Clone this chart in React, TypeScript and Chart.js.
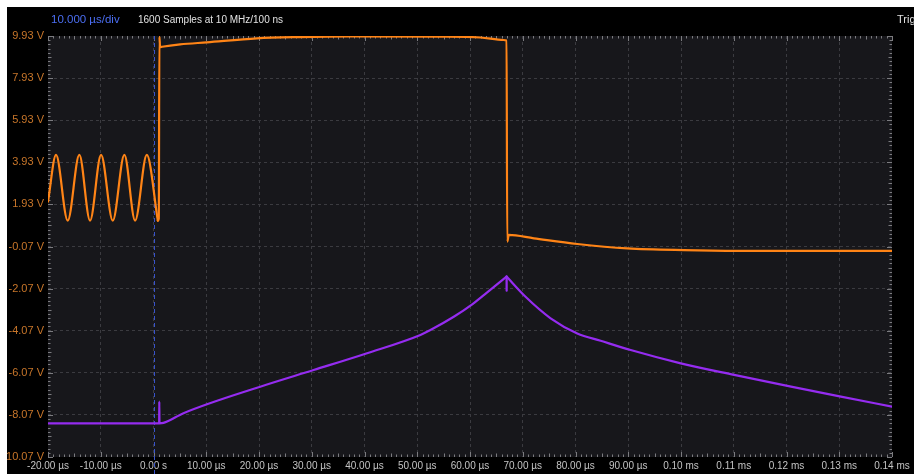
import React, { useEffect, useRef } from 'react';
import { Chart, registerables } from 'chart.js';

Chart.register(...registerables);

// Channel A, pre-trigger sine burst: extrema (µs, V)
const burstTimes = [-20, -18.48, -16.26, -14.06, -12.03, -9.94, -7.72, -5.52, -3.49, -1.27, 0.82];
const burstVolts = [2.06, 4.28, 1.16, 4.28, 1.16, 4.28, 1.16, 4.28, 1.16, 4.28, 1.16];

// Channel A, pulse after the trigger (µs, V)
const pulseTimes = [0.82, 1.0, 1.12, 1.25, 1.64, 5.05, 10.12, 19.61, 27.83, 37.32, 54.4, 61.99, 66.36, 66.93, 67.06, 67.36, 72.11, 80.34, 89.83, 100.57, 116.4, 140];
const pulseVolts = [1.16, 1.25, 9.9, 9.4, 9.42, 9.53, 9.63, 9.82, 9.88, 9.91, 9.9, 9.86, 9.74, 9.72, 0.16, 0.48, 0.32, 0.05, -0.16, -0.24, -0.28, -0.28];

// Channel B, ramp up to the peak (µs, V)
const rampUpTimes = [-20, 1.07, 1.1, 1.13, 1.88, 5.68, 20.24, 30.35, 40.49, 50.6, 52.5, 56.92, 60.42, 63.26, 66.93];
const rampUpVolts = [-8.47, -8.47, -7.44, -8.47, -8.45, -7.99, -6.73, -5.94, -5.14, -4.27, -4.04, -3.41, -2.82, -2.25, -1.5];

// Channel B, decay after the peak (µs, V)
const rampDownTimes = [66.93, 70.53, 75.28, 80.34, 84.77, 90.46, 99.95, 110.07, 120.86, 130.31, 140];
const rampDownVolts = [-1.5, -2.46, -3.48, -4.2, -4.55, -4.99, -5.62, -6.17, -6.73, -7.2, -7.68];

// Channel B, switching glitch at the peak (µs, V)
const glitchTimes = [66.93, 66.95];
const glitchVolts = [-1.5, -2.17];

// Axis ranges
const timeMin = -20;
const timeMax = 140;
const timeStep = 10;
const voltMin = -10.07;
const voltMax = 9.93;
const voltStep = 2;

const timebaseLabel = '10.000 µs/div';
const samplingLabel = '1600 Samples at 10 MHz/100 ns';
const triggerLabel = 'Trig';

const ORANGE = '#ff8416';
const PURPLE = '#952cf0';
const FONT = '"Liberation Sans", Arial, sans-serif';

const toPoints = (xs: number[], ys: number[]) => xs.map((x, i) => ({ x, y: ys[i] }));

const formatTime = (v: number) => {
  if (v === 0) return '0.00 s';
  if (Math.abs(v) >= 100) return `${(v / 1000).toFixed(2)} ms`;
  return `${v.toFixed(2)} µs`;
};

const scopePlugin = {
  id: 'scopeDecor',
  beforeDraw(chart: any) {
    const { ctx, chartArea: a } = chart;
    ctx.save();
    ctx.fillStyle = '#17171b';
    ctx.fillRect(a.left, a.top, a.right - a.left, a.bottom - a.top);

    ctx.textBaseline = 'middle';
    ctx.textAlign = 'left';
    ctx.font = `11.5px ${FONT}`;
    ctx.fillStyle = '#4b6ef2';
    ctx.fillText(timebaseLabel, 44, 13);
    ctx.font = `10px ${FONT}`;
    ctx.fillStyle = '#e2e2e2';
    ctx.fillText(samplingLabel, 131, 13);
    ctx.font = `11px ${FONT}`;
    ctx.fillText(triggerLabel, 890, 13);
    ctx.restore();
  },
  beforeDatasetsDraw(chart: any) {
    const { ctx, chartArea: a, scales } = chart;
    const xs = scales.x;
    const ys = scales.y;
    ctx.save();
    ctx.strokeStyle = '#7c7c80';
    ctx.lineWidth = 1;
    ctx.beginPath();
    // horizontal-axis ticks on top and bottom edges (10 per division)
    const nx = Math.round((timeMax - timeMin) / timeStep) * 10;
    for (let i = 0; i <= nx; i++) {
      const px = Math.round(xs.getPixelForValue(timeMin + i * timeStep / 10)) + 0.5;
      const len = i % 10 === 0 ? 5 : i % 5 === 0 ? 3.5 : 2.5;
      ctx.moveTo(px, a.top);
      ctx.lineTo(px, a.top + len);
      ctx.moveTo(px, a.bottom);
      ctx.lineTo(px, a.bottom - len);
    }
    // vertical-axis ticks on left and right edges
    const ny = Math.round((voltMax - voltMin) / voltStep) * 10;
    for (let i = 0; i <= ny; i++) {
      const py = Math.round(ys.getPixelForValue(voltMin + i * voltStep / 10)) + 0.5;
      const len = i % 10 === 0 ? 5 : i % 5 === 0 ? 3.5 : 2.5;
      ctx.moveTo(a.left, py);
      ctx.lineTo(a.left + len, py);
      ctx.moveTo(a.right, py);
      ctx.lineTo(a.right - len, py);
    }
    ctx.stroke();

    // trigger marker at t = 0
    const tx = Math.round(xs.getPixelForValue(0)) + 0.5;
    ctx.strokeStyle = '#3853cc';
    ctx.setLineDash([4, 3]);
    ctx.beginPath();
    ctx.moveTo(tx, a.top);
    ctx.lineTo(tx, chart.height);
    ctx.stroke();
    ctx.restore();
  },
};

const traceStyle = {
  borderWidth: 2.2,
  pointRadius: 0,
  cubicInterpolationMode: 'monotone',
  borderJoinStyle: 'round',
  borderCapStyle: 'round',
};

export default function App() {
  const canvasRef = useRef<HTMLCanvasElement>(null);

  useEffect(() => {
    if (!canvasRef.current) return;
    const edgeHidden = (ctx: any) =>
      ctx.index === 0 || ctx.index === ctx.scale.ticks.length - 1 ? 'rgba(0,0,0,0)' : '#3b3b40';

    const chart = new Chart(canvasRef.current, {
      type: 'line',
      data: {
        datasets: [
          { data: toPoints(burstTimes, burstVolts), borderColor: ORANGE, ...traceStyle },
          { data: toPoints(pulseTimes, pulseVolts), borderColor: ORANGE, ...traceStyle },
          { data: toPoints(rampUpTimes, rampUpVolts), borderColor: PURPLE, ...traceStyle },
          { data: toPoints(rampDownTimes, rampDownVolts), borderColor: PURPLE, ...traceStyle },
          { data: toPoints(glitchTimes, glitchVolts), borderColor: PURPLE, ...traceStyle, cubicInterpolationMode: 'default', tension: 0 },
        ],
      },
      options: {
        animation: false,
        responsive: false,
        events: [],
        layout: { padding: { top: 29, right: 22, left: 0, bottom: 0 } },
        plugins: { legend: { display: false }, tooltip: { enabled: false } },
        scales: {
          x: {
            type: 'linear',
            min: timeMin,
            max: timeMax,
            afterFit: (scale: any) => {
              scale.height = 17;
            },
            ticks: {
              stepSize: timeStep,
              autoSkip: false,
              maxRotation: 0,
              padding: 3,
              color: '#c4c4c4',
              font: { family: FONT, size: 10 },
              callback: (v: any) => formatTime(Number(v)),
            },
            grid: { color: edgeHidden, drawTicks: false, lineWidth: 1 },
            border: { display: false, dash: [3, 3] },
          },
          y: {
            type: 'linear',
            min: voltMin,
            max: voltMax,
            afterFit: (scale: any) => {
              scale.width = 41;
            },
            ticks: {
              stepSize: voltStep,
              autoSkip: false,
              padding: 4,
              color: '#c8762a',
              font: { family: FONT, size: 11 },
              callback: (v: any) => `${Number(v).toFixed(2)} V`,
            },
            grid: { color: edgeHidden, drawTicks: false, lineWidth: 1 },
            border: { display: false, dash: [3, 3] },
          },
        },
      },
      plugins: [scopePlugin],
    } as any);
    return () => chart.destroy();
  }, []);

  return (
    <div
      style={{
        position: 'fixed',
        left: 0,
        top: 0,
        width: 914,
        height: 474,
        background: '#ffffff',
        overflow: 'hidden',
      }}
    >
      <div style={{ position: 'absolute', left: 7, top: 7, width: 907, height: 467, background: '#000000' }}>
        <canvas ref={canvasRef} width={907} height={467} style={{ display: 'block' }} />
      </div>
    </div>
  );
}
